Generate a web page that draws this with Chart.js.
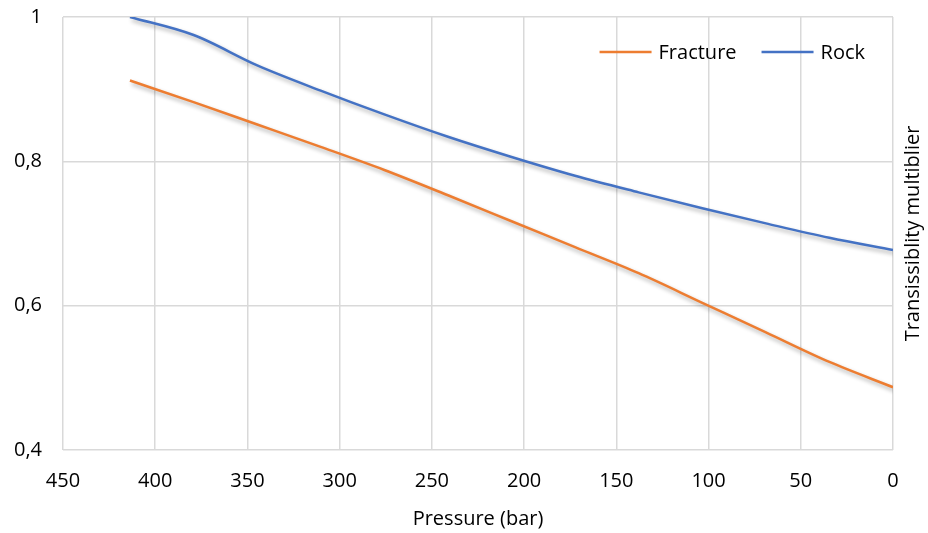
<!DOCTYPE html>
<html>
<head>
<meta charset="utf-8">
<script src="https://cdn.jsdelivr.net/npm/chart.js@4.4.1/dist/chart.umd.min.js"></script>
<style>
  html, body { margin: 0; padding: 0; background: #fff; }
  #wrap { width: 928px; height: 533px; position: relative; }
</style>
</head>
<body>
<div id="wrap"><canvas id="transChart"></canvas></div>
<script>
// pressure steps (bar), 500 psi apart
const pressure = [413.7, 379.2, 344.7, 310.3, 275.8, 241.3, 206.8, 172.4, 137.9, 103.4, 68.9, 34.5, 0];
const fracture = [0.912, 0.882, 0.851, 0.820, 0.788, 0.753, 0.717, 0.681, 0.645, 0.604, 0.563, 0.522, 0.487];
const rock     = [1.000, 0.975, 0.933, 0.898, 0.865, 0.834, 0.806, 0.780, 0.757, 0.735, 0.714, 0.694, 0.677];
const seriesNames = ['Fracture', 'Rock'];
const seriesColors = ['#ED7D31', '#4472C4'];
const yTitle = 'Transissiblity multiblier';
const xTitle = 'Pressure (bar)';

const fuente = '"Open Sans", sans-serif';
const tam = 20;

function puntos(valores) {
  return pressure.map((p, i) => ({ x: p, y: valores[i] }));
}

// soft shadow under the lines
const sombra = {
  id: 'sombra',
  beforeDatasetsDraw(chart) {
    const c = chart.ctx;
    c.save();
    c.shadowColor = 'rgba(0,0,0,0.32)';
    c.shadowBlur = 4;
    c.shadowOffsetX = 2;
    c.shadowOffsetY = 3;
  },
  afterDatasetsDraw(chart) {
    chart.ctx.restore();
  }
};

// y title on the right side + legend inside the plot, top right
const extras = {
  id: 'extras',
  afterDraw(chart) {
    const c = chart.ctx;
    const area = chart.chartArea;
    c.save();
    c.font = tam + 'px ' + fuente;
    c.fillStyle = '#000';

    c.save();
    c.translate(913, (area.top + area.bottom) / 2);
    c.rotate(-Math.PI / 2);
    c.textAlign = 'center';
    c.textBaseline = 'middle';
    c.fillText(yTitle, 0, 0);
    c.restore();

    // legend, laid out right to left
    const linea = 52, hueco = 7, entre = 25;
    const yLeg = area.top + 35;
    let x = area.right - 28;
    const sets = chart.data.datasets;
    const posiciones = [];
    for (let i = sets.length - 1; i >= 0; i--) {
      const w = c.measureText(sets[i].label).width;
      x -= w;
      const xTexto = x;
      x -= hueco + linea;
      posiciones[i] = { linea: x, texto: xTexto };
      x -= entre;
    }
    c.textAlign = 'left';
    c.textBaseline = 'middle';
    sets.forEach((ds, i) => {
      const p = posiciones[i];
      c.strokeStyle = ds.borderColor;
      c.lineWidth = 2.5;
      c.beginPath();
      c.moveTo(p.linea, yLeg);
      c.lineTo(p.linea + linea, yLeg);
      c.stroke();
      c.fillText(ds.label, p.texto, yLeg + 1);
    });
    c.restore();
  }
};

const ctx = document.getElementById('transChart');

new Chart(ctx, {
  type: 'line',
  data: {
    datasets: [{
      label: seriesNames[0],
      data: puntos(fracture),
      borderColor: seriesColors[0],
      backgroundColor: seriesColors[0],
      borderWidth: 2.5,
      pointRadius: 0,
      cubicInterpolationMode: 'monotone'
    }, {
      label: seriesNames[1],
      data: puntos(rock),
      borderColor: seriesColors[1],
      backgroundColor: seriesColors[1],
      borderWidth: 2.5,
      pointRadius: 0,
      cubicInterpolationMode: 'monotone'
    }]
  },
  options: {
    responsive: true,
    maintainAspectRatio: false,
    animation: false,
    layout: { padding: { top: 17, right: 35, left: 10, bottom: 0 } },
    plugins: {
      tooltip: { enabled: false },
      legend: { display: false }
    },
    scales: {
      x: {
        type: 'linear',
        reverse: true,
        min: 0,
        max: 450,
        afterFit(scale) {
          scale.height = 83;
          scale.paddingLeft = 0;
          scale.paddingRight = 0;
        },
        ticks: {
          stepSize: 50,
          padding: 19,
          maxRotation: 0,
          color: '#000',
          font: { family: fuente, size: tam }
        },
        grid: { color: '#D9D9D9', lineWidth: 1.5, drawTicks: false },
        border: { display: false },
        title: {
          display: true,
          text: xTitle,
          color: '#000',
          padding: { top: 14, bottom: 2 },
          font: { family: fuente, size: tam }
        }
      },
      y: {
        min: 0.4,
        max: 1,
        afterFit(scale) {
          scale.width = 53;
          scale.paddingTop = 0;
          scale.paddingBottom = 0;
        },
        ticks: {
          stepSize: 0.2,
          padding: 21,
          color: '#000',
          font: { family: fuente, size: tam },
          callback: v => String(Math.round(v * 10) / 10).replace('.', ',')
        },
        grid: { color: '#D9D9D9', lineWidth: 1.5, drawTicks: false },
        border: { display: false }
      }
    }
  },
  plugins: [sombra, extras]
});
</script>
</body>
</html>
